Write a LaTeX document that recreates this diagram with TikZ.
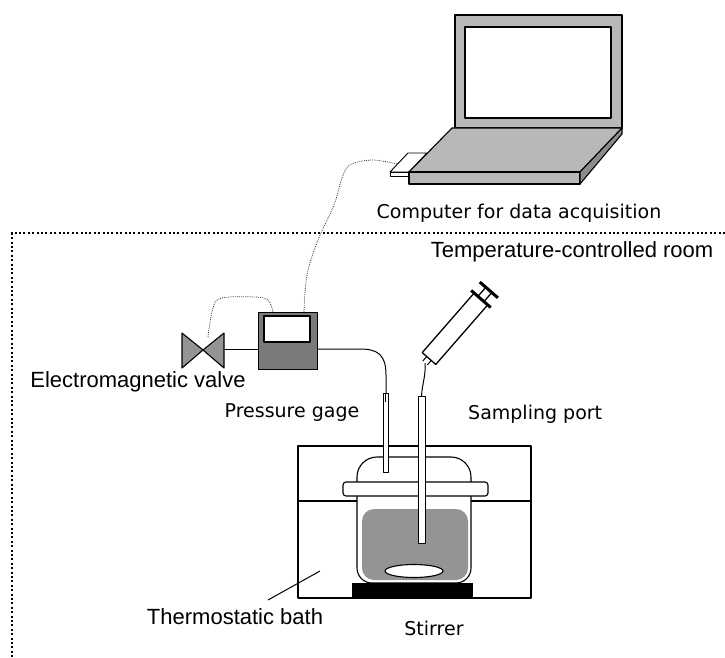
\documentclass[tikz,border=0pt]{standalone}
\usepackage{fontspec}
\setmainfont{DejaVu Sans}
\newfontfamily\arialfont{Liberation Sans}
\begin{document}
\begin{tikzpicture}[x=1pt,y=-1pt,
  outline/.style={draw=black,line width=1.1pt,line join=round},
  laptopgray/.style={outline,fill=black!28},
  cable/.style={draw=black!85,line width=0.75pt,dash pattern=on 0.8pt off 1.1pt},
  roomline/.style={draw=black,line width=2pt,dash pattern=on 2pt off 2.4pt},
  pipe/.style={draw=black,line width=1pt},
  tlabel/.style={font=\fontsize{19}{21}\selectfont,inner sep=0pt},
  alabel/.style={font=\arialfont\fontsize{22}{24}\selectfont,inner sep=0pt}]
\useasboundingbox (0,0) rectangle (725,658);

% ---------- laptop ----------
\draw[laptopgray] (455,15) rectangle (622,128);
\draw[outline,fill=white] (465,27) rectangle (611,118);
% PC card sticking out of the left side
\draw[outline,fill=white,line width=0.9pt] (390,172) -- (408,153) -- (427,153) -- (409,172) -- cycle;
\draw[outline,fill=white,line width=0.9pt] (390,172) -- (409,172) -- (409,176) -- (390,176) -- cycle;
% base
\draw[laptopgray] (452,128) -- (622,128) -- (580,172) -- (409,172) -- cycle;
\draw[laptopgray] (409,172) rectangle (580,184);
\draw[outline,fill=black!45] (580,172) -- (622,128) -- (622,134) -- (580,184) -- cycle;
\coordinate (card) at (397,164);

\node[tlabel] (comp) at (519,213) {Computer for data acquisition};

% ---------- temperature-controlled room ----------
\draw[roomline] (725,233) -- (12,233) -- (12,658);
\node[alabel] (room) at (572,252) {Temperature-controlled room};

% ---------- pressure gage ----------
\node[outline,fill=black!52,minimum width=59pt,minimum height=57pt,inner sep=0pt,anchor=north west] (gage) at (258,312) {};
\draw[outline,fill=white] (264,316) rectangle (310,342);
\node[tlabel] (gagelbl) at (292,413) {Pressure gage};

% ---------- electromagnetic valve ----------
\coordinate (valve) at (203,350);
\draw[outline,fill=black!42] (182,333) -- (182,368) -- (valve) -- cycle;
\draw[outline,fill=black!42] (224,333) -- (224,368) -- (valve) -- cycle;
\node[alabel] (valvelbl) at (138,382) {Electromagnetic valve};

% signal cables
\draw[cable] plot[smooth,tension=0.6] coordinates {(card) (372,160) (350,165) (342,178) (334,205) (318,240) (307,275) (304,312)};
\draw[cable] plot[smooth,tension=0.6] coordinates {(273,312) (268,300) (255,297) (222,298) (213,308) (208,337)};

% gas line
\draw[pipe] (224,349) -- (gage.west |- 0,349);
\draw[pipe] (gage.east |- 0,349) -- (360,349) .. controls (378,349) and (386,355) .. (386,375) -- (386,400);

% ---------- thermostatic bath and vessel ----------
\draw[outline,line width=1.3pt] (298,446) rectangle (531,598);
\draw[outline] (298,501) -- (531,501);
\draw[outline,fill=white,rounded corners=15pt] (357,494) -- (357,583) -- (471,583) -- (471,494);
\draw[outline,fill=white,rounded corners=20pt] (357,485) -- (357,457) -- (471,457) -- (471,485);
\draw[outline,fill=white,rounded corners=3pt] (343,482) rectangle (488,496);
\fill[black!42,rounded corners=12pt] (362,509) -- (362,580) -- (468,580) -- (468,509) -- cycle;
\draw[outline,fill=white] (414,571) ellipse [x radius=29pt,y radius=6.5pt];
\fill[black] (352,583) rectangle (473,597);

% tubes through the lid
\draw[outline,line width=0.9pt,fill=white] (383,393) rectangle (388,472);
\draw[pipe] (385.5,393) -- (385.5,402);
\draw[outline,line width=0.9pt,fill=white] (418,396) rectangle (425,543);

% ---------- syringe ----------
\begin{scope}[shift={(429,358.5)},rotate=48.9]
  \draw[outline,line width=1.3pt,fill=white] (0,-9) rectangle (79,9);
  \draw[line width=1.3pt] (79,-4) -- (91,-4) (79,4) -- (91,4);
  \draw[line width=3pt] (79,-13) -- (79,13);
  \draw[line width=3pt] (91,-12) -- (91,12);
  \draw[line width=1pt] (0,-3) -- (-6,-3) (0,3) -- (-6,3);
  \coordinate (needle) at (-6,0);
\end{scope}
\draw[pipe] (needle) .. controls (426,375) and (422,385) .. (421.5,396);

\node[tlabel,anchor=west] (samplbl) at (468,414) {Sampling port};
\node[tlabel] (stirlbl) at (434,628) {Stirrer};
\node[alabel] (bathlbl) at (235,617) {Thermostatic bath};
\coordinate (bathpt) at (320,571);
\draw[line width=1pt] (268,600) -- (bathpt);
\end{tikzpicture}
\end{document}
